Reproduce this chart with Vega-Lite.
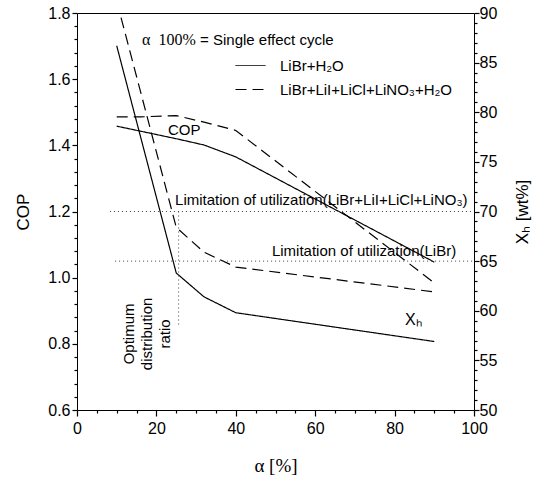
{
  "$schema": "https://vega.github.io/schema/vega-lite/v6.json",
  "width": 397,
  "height": 397,
  "autosize": "none",
  "padding": {"left": 77, "top": 13, "right": 74, "bottom": 69},
  "config": {
    "view": {"stroke": "black", "strokeWidth": 1},
    "font": "Liberation Sans",
    "axis": {
      "domain": false, "tickColor": "black", "labelColor": "black", "titleColor": "black",
      "grid": false, "labelFont": "Liberation Sans", "labelFontSize": 16, "labelFlush": false, "labelOverlap": false,
      "titleFont": "Liberation Sans", "titleFontWeight": "normal", "tickWidth": 1.2, "tickOpacity": 1, "zindex": 1
    }
  },
  "resolve": {"scale": {"y": "independent"}, "axis": {"x": "independent", "y": "independent"}},
  "layer": [
    {
      "layer": [
        {
          "data": {"values": [
            {"alpha": 10, "cop": 1.458, "fluid": "LiBr+H₂O"},
            {"alpha": 25, "cop": 1.42, "fluid": "LiBr+H₂O"},
            {"alpha": 32, "cop": 1.401, "fluid": "LiBr+H₂O"},
            {"alpha": 40, "cop": 1.365, "fluid": "LiBr+H₂O"},
            {"alpha": 90, "cop": 1.047, "fluid": "LiBr+H₂O"},
            {"alpha": 10, "cop": 1.486, "fluid": "LiBr+LiI+LiCl+LiNO₃+H₂O"},
            {"alpha": 16, "cop": 1.486, "fluid": "LiBr+LiI+LiCl+LiNO₃+H₂O"},
            {"alpha": 25, "cop": 1.49, "fluid": "LiBr+LiI+LiCl+LiNO₃+H₂O"},
            {"alpha": 32, "cop": 1.47, "fluid": "LiBr+LiI+LiCl+LiNO₃+H₂O"},
            {"alpha": 40, "cop": 1.445, "fluid": "LiBr+LiI+LiCl+LiNO₃+H₂O"},
            {"alpha": 90, "cop": 0.984, "fluid": "LiBr+LiI+LiCl+LiNO₃+H₂O"}
          ]},
          "mark": {"type": "line", "color": "black", "strokeWidth": 1.2, "clip": true},
          "encoding": {
            "x": {"field": "alpha", "type": "quantitative",
              "scale": {"domain": [0, 100], "nice": false, "zero": false},
              "axis": {
                "orient": "bottom",
                "values": [0, 20, 40, 60, 80, 100],
                "ticks": true, "tickSize": 6,
                "labelPadding": 4,
                "title": "α [%]", "titleFont": "Liberation Serif", "titleFontSize": 19, "titlePadding": 20
              }},
            "y": {"field": "cop", "type": "quantitative",
              "scale": {"domain": [0.6, 1.8], "nice": false, "zero": false},
              "axis": {
                "orient": "left",
                "values": [0.6, 0.8, 1.0, 1.2, 1.4, 1.6, 1.8],
                "format": ".1f",
                "ticks": true, "tickSize": 5,
                "labelPadding": 2,
                "title": "COP", "titleFontSize": 17, "titlePadding": 15
              }},
            "strokeDash": {"field": "fluid", "type": "nominal",
              "scale": {"domain": ["LiBr+H₂O", "LiBr+LiI+LiCl+LiNO₃+H₂O"], "range": [[1, 0], [11, 6]]},
              "legend": {"orient": "none", "legendX": 158, "legendY": 37, "title": null,
                "symbolType": "stroke", "symbolSize": 900, "symbolStrokeWidth": 1, "symbolStrokeColor": "black",
                "labelFontSize": 15, "labelFont": "Liberation Sans", "labelOffset": 14, "labelLimit": 400,
                "rowPadding": -3, "padding": 0}}
          }
        },
        {
          "data": {"values": [
            {"alpha": 31.0, "cop": 1.718, "label": "= Single effect cycle"},
            {"alpha": 24.7, "cop": 1.235, "label": "Limitation of utilization(LiBr+LiI+LiCl+LiNO₃)"},
            {"alpha": 49.1, "cop": 1.081, "label": "Limitation of utilization(LiBr)"},
            {"alpha": 22.9, "cop": 1.446, "label": "COP"}
          ]},
          "mark": {"type": "text", "align": "left", "baseline": "middle", "fontSize": 15, "font": "Liberation Sans", "color": "black"},
          "encoding": {
            "x": {"field": "alpha", "type": "quantitative"},
            "y": {"field": "cop", "type": "quantitative"},
            "text": {"field": "label"}
          }
        },
        {
          "data": {"values": [
            {"alpha": 16.4, "cop": 1.718, "label": "α\u00a0\u00a0100%"}
          ]},
          "mark": {"type": "text", "align": "left", "baseline": "middle", "fontSize": 16, "font": "Liberation Serif", "color": "black"},
          "encoding": {
            "x": {"field": "alpha", "type": "quantitative"},
            "y": {"field": "cop", "type": "quantitative"},
            "text": {"field": "label"}
          }
        },
        {
          "data": {"values": [
            {"alpha": 82.6, "cop": 0.872, "label": "Xₕ"}
          ]},
          "mark": {"type": "text", "align": "left", "baseline": "middle", "fontSize": 16, "font": "Liberation Sans", "color": "black"},
          "encoding": {
            "x": {"field": "alpha", "type": "quantitative"},
            "y": {"field": "cop", "type": "quantitative"},
            "text": {"field": "label"}
          }
        },
        {
          "data": {"values": [
            {"alpha": 13.1, "cop": 0.83, "label": "Optimum\ndistribution\nratio"}
          ]},
          "mark": {"type": "text", "align": "center", "baseline": "middle", "angle": 270, "lineBreak": "\n", "lineHeight": 18, "fontSize": 15, "font": "Liberation Sans", "color": "black"},
          "encoding": {
            "x": {"field": "alpha", "type": "quantitative"},
            "y": {"field": "cop", "type": "quantitative"},
            "text": {"field": "label"}
          }
        }
      ]
    },
    {
      "data": {"values": [
        {"alpha": 10, "xh": 86.7, "fluid": "LiBr+H₂O"},
        {"alpha": 25, "xh": 63.8, "fluid": "LiBr+H₂O"},
        {"alpha": 32, "xh": 61.4, "fluid": "LiBr+H₂O"},
        {"alpha": 40, "xh": 59.8, "fluid": "LiBr+H₂O"},
        {"alpha": 90, "xh": 56.9, "fluid": "LiBr+H₂O"}
      ]},
      "mark": {"type": "line", "color": "black", "strokeWidth": 1.2, "clip": true},
      "encoding": {
        "x": {"field": "alpha", "type": "quantitative",
          "axis": {"orient": "bottom", "values": [5,10,15,25,30,35,45,50,55,65,70,75,85,90,95],
            "ticks": true, "tickSize": 3, "labels": false, "title": null}},
        "y": {"field": "xh", "type": "quantitative",
          "scale": {"domain": [50, 90], "nice": false, "zero": false},
          "axis": {
            "orient": "right",
            "values": [50, 55, 60, 65, 70, 75, 80, 85, 90],
            "ticks": true, "tickSize": 5,
            "labelPadding": 0,
            "title": "Xₕ [wt%]", "titleFontSize": 17, "titleAngle": 270, "titlePadding": 35
          }},
        "strokeDash": {"field": "fluid", "type": "nominal"}
      }
    },
    {
      "data": {"values": [
        {"alpha": 10, "xh": 91.2, "fluid": "LiBr+LiI+LiCl+LiNO₃+H₂O"},
        {"alpha": 25, "xh": 68.4, "fluid": "LiBr+LiI+LiCl+LiNO₃+H₂O"},
        {"alpha": 32, "xh": 65.9, "fluid": "LiBr+LiI+LiCl+LiNO₃+H₂O"},
        {"alpha": 40, "xh": 64.4, "fluid": "LiBr+LiI+LiCl+LiNO₃+H₂O"},
        {"alpha": 90, "xh": 61.9, "fluid": "LiBr+LiI+LiCl+LiNO₃+H₂O"}
      ]},
      "mark": {"type": "line", "color": "black", "strokeWidth": 1.2, "clip": true},
      "encoding": {
        "x": {"field": "alpha", "type": "quantitative", "axis": null},
        "y": {"field": "xh", "type": "quantitative",
          "scale": {"domain": [50, 90], "nice": false, "zero": false},
          "axis": {
            "orient": "right",
            "values": [51,52,53,54,56,57,58,59,61,62,63,64,66,67,68,69,71,72,73,74,76,77,78,79,81,82,83,84,86,87,88,89],
            "ticks": true, "tickSize": 3, "labels": false, "title": null
          }},
        "strokeDash": {"field": "fluid", "type": "nominal"}
      }
    },
    {
      "data": {"values": [
        {"alpha": 8.3, "alpha2": 100, "cop": 1.2, "cop2": 1.2},
        {"alpha": 9.6, "alpha2": 100, "cop": 1.05, "cop2": 1.05},
        {"alpha": 25.6, "alpha2": 25.6, "cop": 1.2, "cop2": 0.85}
      ]},
      "mark": {"type": "rule", "color": "#444", "strokeWidth": 1, "strokeDash": [1, 3]},
      "encoding": {
        "x": {"field": "alpha", "type": "quantitative", "axis": null},
        "x2": {"field": "alpha2"},
        "y": {"field": "cop", "type": "quantitative",
          "scale": {"domain": [0.6, 1.8], "nice": false, "zero": false},
          "axis": {
            "orient": "left",
            "values": [0.64,0.68,0.72,0.76,0.84,0.88,0.92,0.96,1.04,1.08,1.12,1.16,1.24,1.28,1.32,1.36,1.44,1.48,1.52,1.56,1.64,1.68,1.72,1.76],
            "ticks": true, "tickSize": 3, "labels": false, "title": null
          }},
        "y2": {"field": "cop2"}
      }
    }
  ]
}
